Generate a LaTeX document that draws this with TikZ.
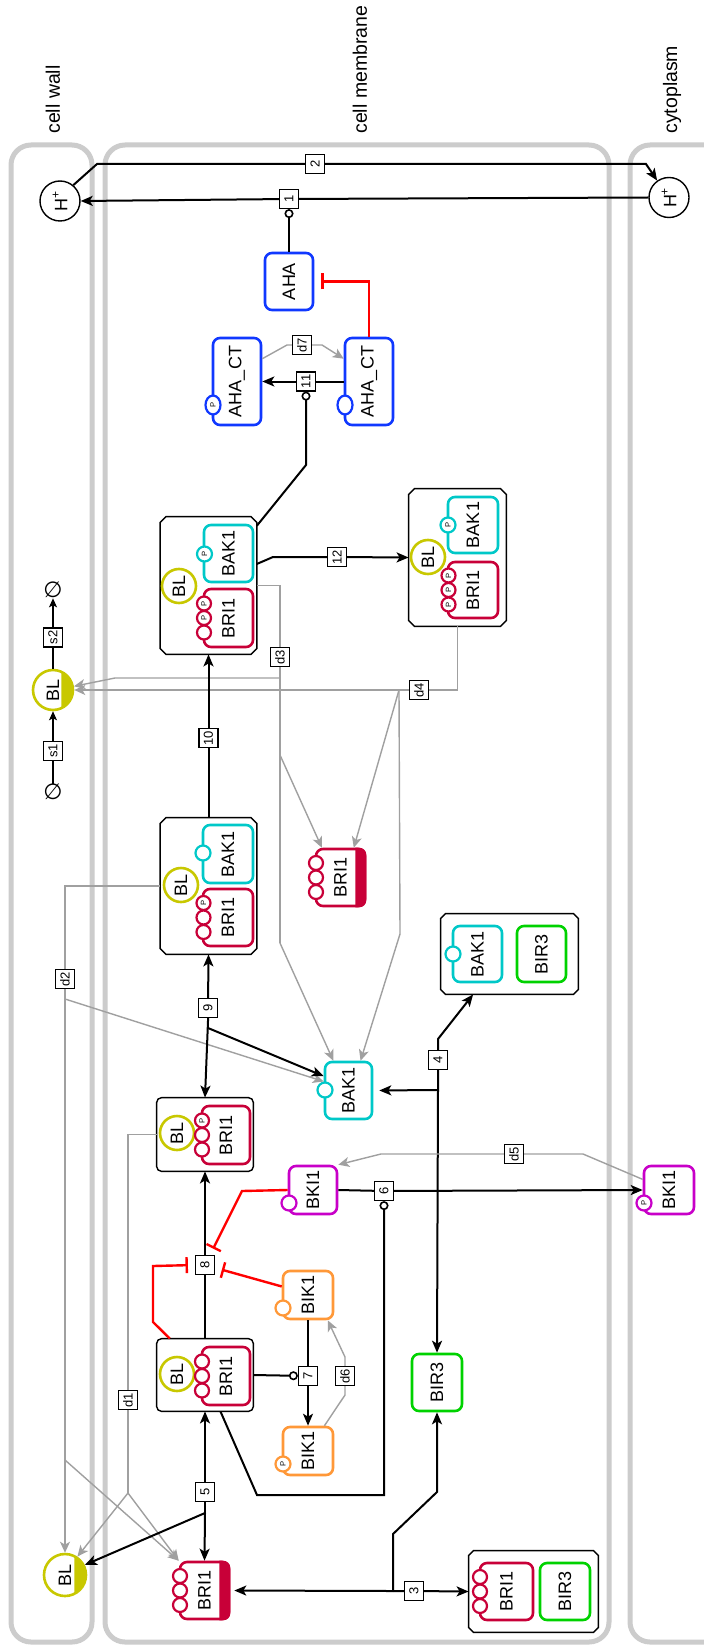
\documentclass[tikz,border=0pt]{standalone}
\usepackage{fontspec}
\setmainfont{Liberation Sans}
\newfontfamily\djv{DejaVu Sans}
\usetikzlibrary{arrows.meta,shapes.geometric}
\definecolor{cwall}{RGB}{204,204,204}
\definecolor{ablue}{RGB}{16,56,255}
\definecolor{bcyan}{RGB}{0,200,200}
\definecolor{bcrim}{RGB}{200,0,56}
\definecolor{bolive}{RGB}{200,200,0}
\definecolor{bmag}{RGB}{200,0,200}
\definecolor{borange}{RGB}{255,152,56}
\definecolor{bgreen}{RGB}{0,210,0}
\definecolor{lgray}{RGB}{160,160,160}
\definecolor{ired}{RGB}{255,0,0}
\newcommand\rtx[1]{\rotatebox{90}{#1}}
\newcommand\cplxdraw[2]{%
 \filldraw[cline] ([xshift=#2]#1.north west) -- ([xshift=-#2]#1.north east) -- ([yshift=-#2]#1.north east) -- ([yshift=#2]#1.south east) -- ([xshift=-#2]#1.south east) -- ([xshift=#2]#1.south west) -- ([yshift=#2]#1.south west) -- ([yshift=-#2]#1.north west) -- cycle;}
\newcommand\svb[4]{\node[svar,draw=bcrim,minimum width=7pt,minimum height=7pt] (#1) at (#2,#3) {#4};}
\tikzset{
 comp/.style={draw=cwall, line width=2.5pt, rounded corners=10pt},
 ent/.style={rectangle, rounded corners=3.5pt, line width=1.3pt, fill=white, inner sep=0pt, font=\fontsize{9}{9}\selectfont},
 blc/.style={circle, draw=bolive, line width=1.3pt, fill=white, inner sep=0pt, minimum size=17pt, font=\fontsize{9}{9}\selectfont},
 cplx/.style={rectangle, inner sep=0pt},
 cline/.style={draw=black, line width=0.7pt, fill=white},
 svar/.style={ellipse, fill=white, line width=1.1pt, inner sep=0pt, minimum width=7.5pt, minimum height=7.5pt, font=\fontsize{3.8}{4}\selectfont},
 lbl/.style={rectangle, draw=black, line width=0.6pt, fill=white, inner sep=0pt, minimum size=9.5pt, font=\fontsize{6.5}{6.5}\selectfont},
 arr/.style={draw=black, line width=1pt, -{Stealth[length=6pt,width=5pt,inset=1.5pt]}},
 garr/.style={draw=lgray, line width=0.7pt, -{Stealth[length=5.5pt,width=5pt,inset=1.5pt]}},
 gline/.style={draw=lgray, line width=0.7pt},
 inh/.style={draw=ired, line width=1.2pt, -{Bar[width=8pt]}, shorten >=3.5pt},
 mod/.style={draw=black, line width=1pt, -{Circle[open,length=4.5pt,width=4.5pt,line width=0.8pt]}},
 thinarr/.style={draw=black, line width=0.6pt, -{Stealth[length=4.5pt,width=4pt,inset=1pt]}},
 hion/.style={circle, draw=black, line width=0.7pt, fill=white, minimum size=20pt, inner sep=0pt, font=\fontsize{9}{9}\selectfont},
 clab/.style={anchor=south, inner sep=0pt, font=\fontsize{9.75}{9.75}\selectfont},
 emp/.style={inner sep=0pt, font=\djv\fontsize{11}{11}\selectfont},
}
\begin{document}
\begin{tikzpicture}[x=0.5pt,y=-0.5pt]
\useasboundingbox (0,0) rectangle (703,1647);
\fill[white] (0,0) rectangle (703,1647);
% compartments
\draw[comp] (11,145) rectangle (92,1642);
\draw[comp] (105,145) rectangle (609,1642);
\draw[comp] (630,145) rectangle (790,1642);
\node[clab] (lwall) at (53,134) {\rtx{cell wall}};
\node[clab] (lmem) at (360,134) {\rtx{cell membrane}};
\node[clab] (lcyt) at (672,134) {\rtx{cytoplasm}};
% complexes
\node[cplx, minimum width=48pt, minimum height=68.5pt] (c10) at (208.5,585.5) {};
\cplxdraw{c10}{3pt}
\node[cplx, minimum width=48.5pt, minimum height=68.5pt] (c12) at (457.5,557.5) {};
\cplxdraw{c12}{3pt}
\node[cplx, minimum width=48pt, minimum height=68pt] (c9) at (208.5,886) {};
\cplxdraw{c9}{3pt}
\node[cplx, minimum width=48pt, minimum height=36.5pt] (c8) at (205,1134.5) {};
\filldraw[cline, rounded corners=2.5pt] (c8.north west) rectangle (c8.south east);
\node[cplx, minimum width=48pt, minimum height=36pt] (ca) at (205,1375) {};
\filldraw[cline, rounded corners=2.5pt] (ca.north west) rectangle (ca.south east);
\node[cplx, minimum width=68.5pt, minimum height=40pt] (c4) at (509.5,954) {};
\cplxdraw{c4}{2.5pt}
\node[cplx, minimum width=64.5pt, minimum height=40.5pt] (c3) at (533.5,1591.5) {};
\cplxdraw{c3}{2.5pt}
% entities
\node[ent, draw=ablue, minimum width=24pt, minimum height=28.5pt] (aha) at (289,281.5) {\rtx{AHA}};
\node[ent, draw=ablue, minimum width=24pt, minimum height=43.5pt] (ahactl) at (237,381.5) {\rtx{AHA\_CT}};
\node[ent, draw=ablue, minimum width=24pt, minimum height=43.5pt] (ahactr) at (369,381.5) {\rtx{AHA\_CT}};
\node[ent, draw=bcyan, minimum width=24.5pt, minimum height=28.5pt] (c10bak) at (228.5,553.5) {\rtx{BAK1}};
\node[ent, draw=bcrim, minimum width=24.5pt, minimum height=29pt] (c10bri) at (228.5,618) {\rtx{BRI1}};
\node[ent, draw=bcyan, minimum width=25pt, minimum height=28pt] (c12bak) at (473,525) {\rtx{BAK1}};
\node[ent, draw=bcrim, minimum width=25pt, minimum height=28pt] (c12bri) at (473,590) {\rtx{BRI1}};
\node[ent, draw=bcyan, minimum width=25pt, minimum height=29pt] (c9bak) at (228,854) {\rtx{BAK1}};
\node[ent, draw=bcrim, minimum width=25pt, minimum height=28.5pt] (c9bri) at (228,917.5) {\rtx{BRI1}};
\node[ent, draw=bcrim, minimum width=24pt, minimum height=29pt] (c8bri) at (226,1135) {\rtx{BRI1}};
\node[ent, draw=bcrim, minimum width=24pt, minimum height=29pt] (cabri) at (226,1376) {\rtx{BRI1}};
\node[ent, draw=bcyan, minimum width=24.5pt, minimum height=28pt] (c4bak) at (477.5,954) {\rtx{BAK1}};
\node[ent, draw=bgreen, minimum width=24.5pt, minimum height=28pt] (c4bir) at (541.5,954) {\rtx{BIR3}};
\node[ent, draw=bcrim, minimum width=26.5pt, minimum height=28.5pt] (c3bri) at (506.5,1591.5) {\rtx{BRI1}};
\node[ent, draw=bgreen, minimum width=25pt, minimum height=28.5pt] (c3bir) at (565,1591.5) {\rtx{BIR3}};
\node[ent, draw=bcrim, minimum width=24.5pt, minimum height=28.5pt] (brm) at (340.5,877.5) {\rtx{BRI1}};
\node[ent, draw=bcrim, minimum width=24.5pt, minimum height=28.5pt] (brl) at (204.5,1590.5) {\rtx{BRI1}};
\node[ent, draw=bcyan, minimum width=23.5pt, minimum height=28.5pt] (bakf) at (348.5,1090.5) {\rtx{BAK1}};
\node[ent, draw=bmag, minimum width=24pt, minimum height=24pt] (bkim) at (313,1190) {\rtx{BKI1}};
\node[ent, draw=bmag, minimum width=25pt, minimum height=24pt] (bkic) at (669,1190) {\rtx{BKI1}};
\node[ent, draw=borange, minimum width=25pt, minimum height=24pt] (biku) at (308,1295) {\rtx{BIK1}};
\node[ent, draw=borange, minimum width=25pt, minimum height=24pt] (bikl) at (308,1451) {\rtx{BIK1}};
\node[ent, draw=bgreen, minimum width=25pt, minimum height=28.5pt] (bir3f) at (437,1382.5) {\rtx{BIR3}};
% clone markers on free BRI1
\begin{scope}
\clip ([xshift=-5.5pt,yshift=-20pt]brm.east) rectangle ([xshift=2pt,yshift=20pt]brm.east);
\fill[bcrim, rounded corners=3.5pt] (brm.south west) rectangle (brm.north east);
\end{scope}
\begin{scope}
\clip ([xshift=-5.5pt,yshift=-20pt]brl.east) rectangle ([xshift=2pt,yshift=20pt]brl.east);
\fill[bcrim, rounded corners=3.5pt] (brl.south west) rectangle (brl.north east);
\end{scope}
% BL
\node[blc] (c10bl) at (179,586) {\rtx{BL}};
\node[blc] (c12bl) at (428,557) {\rtx{BL}};
\node[blc] (c9bl) at (181,885) {\rtx{BL}};
\node[blc] (c8bl) at (177,1133) {\rtx{BL}};
\node[blc] (cabl) at (177,1374) {\rtx{BL}};
\node[blc, minimum size=20pt] (blw) at (53,690) {\rtx{BL}};
\node[blc, minimum size=21pt] (bll) at (65,1575) {\rtx{BL}};
\begin{scope}
\clip ([xshift=-6.5pt,yshift=-12pt]blw.east) rectangle ([xshift=2pt,yshift=12pt]blw.east);
\fill[bolive] (blw.center) circle[radius=10pt];
\end{scope}
\begin{scope}
\clip ([xshift=-6.5pt,yshift=-12pt]bll.east) rectangle ([xshift=2pt,yshift=12pt]bll.east);
\fill[bolive] (bll.center) circle[radius=10.5pt];
\end{scope}
% H+ and empty sets
\node[hion] (hl) at (60,201) {\rtx{H\textsuperscript{+}}};
\node[hion] (hr) at (669,197.5) {\rtx{H\textsuperscript{+}}};
\node[emp] (e1) at (53,792) {∅};
\node[emp] (e2) at (53,590) {∅};
% state variables BRI1
\svb{sa1}{204}{603.5}{\rtx{P}} \svb{sa2}{204}{618}{\rtx{P}} \svb{sa3}{204}{632.5}{}
\svb{sb1}{448.5}{575.5}{\rtx{P}} \svb{sb2}{448.5}{590}{\rtx{P}} \svb{sb3}{448.5}{604.5}{\rtx{P}}
\svb{sc1}{203.5}{903}{\rtx{P}} \svb{sc2}{203.5}{917.5}{} \svb{sc3}{203.5}{932}{}
\svb{sd1}{202}{1120.5}{\rtx{P}} \svb{sd2}{202}{1135}{} \svb{sd3}{202}{1149.5}{}
\svb{se1}{202}{1361.5}{} \svb{se2}{202}{1376}{} \svb{se3}{202}{1390.5}{}
\svb{sf1}{316}{863}{} \svb{sf2}{316}{877.5}{} \svb{sf3}{316}{892}{}
\svb{sg1}{180}{1576}{} \svb{sg2}{180}{1590.5}{} \svb{sg3}{180}{1605}{}
\svb{sh1}{480}{1577}{} \svb{sh2}{480}{1591.5}{} \svb{sh3}{480}{1606}{}
% other state variables
\node[svar, draw=bcyan] (si1) at (204.5,554) {\rtx{P}};
\node[svar, draw=bcyan] (si2) at (448,525) {\rtx{P}};
\node[svar, draw=bcyan] (si3) at (203,853) {};
\node[svar, draw=bcyan] (si4) at (453,954) {};
\node[svar, draw=bcyan] (si5) at (325,1090) {};
\node[svar, draw=ablue, minimum height=9.5pt] (si6) at (213,405) {\rtx{P}};
\node[svar, draw=ablue, minimum height=9.5pt] (si7) at (345,405) {};
\node[svar, draw=bmag] (si8) at (289,1203) {};
\node[svar, draw=bmag] (si9) at (644,1203) {\rtx{P}};
\node[svar, draw=borange] (si10) at (283,1308) {};
\node[svar, draw=borange] (si11) at (283,1464) {\rtx{P}};
% process labels
\node[lbl] (r1) at (289,199) {\rtx{1}};
\node[lbl] (r2) at (315,164) {\rtx{2}};
\node[lbl] (r11) at (306,381.5) {\rtx{11}};
\node[lbl] (dd7) at (302,345) {\rtx{d7}};
\node[lbl] (r12) at (337,557) {\rtx{12}};
\node[lbl] (dd3) at (280,657) {\rtx{d3}};
\node[lbl] (dd4) at (419,690) {\rtx{d4}};
\node[lbl] (rs1) at (53,751) {\rtx{s1}};
\node[lbl] (rs2) at (53,637.5) {\rtx{s2}};
\node[lbl] (r10) at (208.5,738) {\rtx{10}};
\node[lbl] (dd2) at (65,979) {\rtx{d2}};
\node[lbl] (r9) at (208,1008) {\rtx{9}};
\node[lbl] (r4) at (438,1060) {\rtx{4}};
\node[lbl] (dd5) at (514,1154) {\rtx{d5}};
\node[lbl] (r6) at (384,1191) {\rtx{6}};
\node[lbl] (r8) at (205,1265) {\rtx{8}};
\node[lbl] (r7) at (308,1376) {\rtx{7}};
\node[lbl] (dd6) at (345,1376) {\rtx{d6}};
\node[lbl] (dd1) at (128,1400) {\rtx{d1}};
\node[lbl] (r5) at (205,1492) {\rtx{5}};
\node[lbl] (r3) at (414,1591) {\rtx{3}};
\coordinate (j3) at (393,1591);
\coordinate (j4) at (438,1090);
\coordinate (j5) at (205,1513);
\coordinate (j9) at (208,1021);
% reactions 1, 2
\draw[arr] (hr.west) -- (r1) -- (hl.east);
\draw[mod] (aha.north) -- (r1);
\draw[arr] (hl.50) -- (97,164) -- (r2) -- (646,164) -- (hr.125);
\draw[inh] (ahactr.north) |- (aha.east);
% 11, d7
\draw[arr] (ahactr.west) -- (r11) -- (ahactl.east);
\draw[mod] (c10.51) -- (306,465) -- (r11);
\draw[garr] (ahactl.42) -- (287,345) -- (dd7) -- (322,345) -- (ahactr.138);
% 12
\draw[arr] (c10.24) -- (273,557) -- (r12) -- (c12.west);
% d3
\draw[gline] (c10.east) -- (280,585.5) -- (dd3);
\draw[gline] (dd3) -- (280,943);
\draw[garr] (280,678) -- (115,678) -- (blw.10);
\draw[garr] (280,755) -- (brm.122);
\draw[garr] (280,943) -- (bakf.117);
% d4
\draw[gline] (c12.south) -- (457.5,690) -- (dd4);
\draw[garr] (dd4) -- (blw.east);
\draw[garr] (399,690) -- (brm.66);
\draw[gline] (399,690) -- (400,934);
\draw[garr] (400,934) -- (bakf.68);
% s1, s2
\draw[thinarr] (e1) -- (rs1) -- (blw.south);
\draw[thinarr] (blw.north) -- (rs2) -- (e2);
% 10
\draw[arr] (c9.north) -- (r10) -- (c10.south);
% d2
\draw[gline] (c9.west) -- (65,886) -- (dd2);
\draw[garr] (dd2) -- (bll.north);
\draw[garr] (65,999) -- (bakf.160);
\draw[garr] (65,1460) -- (brl.north west);
% 9
\draw[arr] (j9) -- (r9) -- (c9.south);
\draw[arr] (j9) -- (c8.north);
\draw[arr] (208,1028) -- (bakf.150);
% d1
\draw[gline] (c8.west) -- (128,1134.5) -- (dd1) -- (128,1493);
\draw[garr] (128,1493) -- (bll.56);
\draw[garr] (128,1493) -- (brl.north west);
% 8
\draw[arr] (ca.north) -- (r8) -- (c8.south);
\draw[inh] (ca.134) -- (153,1322) -- (153,1266) -- (r8.west);
\draw[inh] (bkim.west) -- (242,1191) -- (r8);
\draw[inh] (biku.162) -- (r8);
% 7, d6
\draw[arr] (biku.south) -- (r7) -- (bikl.north);
\draw[mod] (ca.east) -- (r7);
\draw[garr] (bikl.57) -- (345,1395) -- (dd6) -- (345,1357) -- (biku.-52);
% 5
\draw[arr] (j5) -- (r5) -- (ca.south);
\draw[arr] (j5) -- (brl.north);
\draw[arr] (j5) -- (bll.27);
% 3
\draw[arr, shorten >=2pt] (j3) -- (brl.east);
\draw[arr] (j3) -- (r3) -- (c3.west);
\draw[arr] (j3) -- (393,1534) -- (437,1492) -- (bir3f.south);
% 4
\draw[arr] (j4) -- (r4) -- (438,1039) -- (c4.228);
\draw[arr, shorten >=3pt] (j4) -- (bakf.east);
\draw[arr] (j4) -- (bir3f.north);
% 6, d5
\draw[arr] (bkim.east) -- (r6) -- (bkic.west);
\draw[mod] (ca.-67) -- (257,1495) -- (384,1495) -- (r6);
\draw[garr] (bkic.158) -- (583,1154) -- (dd5) -- (381,1154) -- (bkim.north east);
\end{tikzpicture}
\end{document}
